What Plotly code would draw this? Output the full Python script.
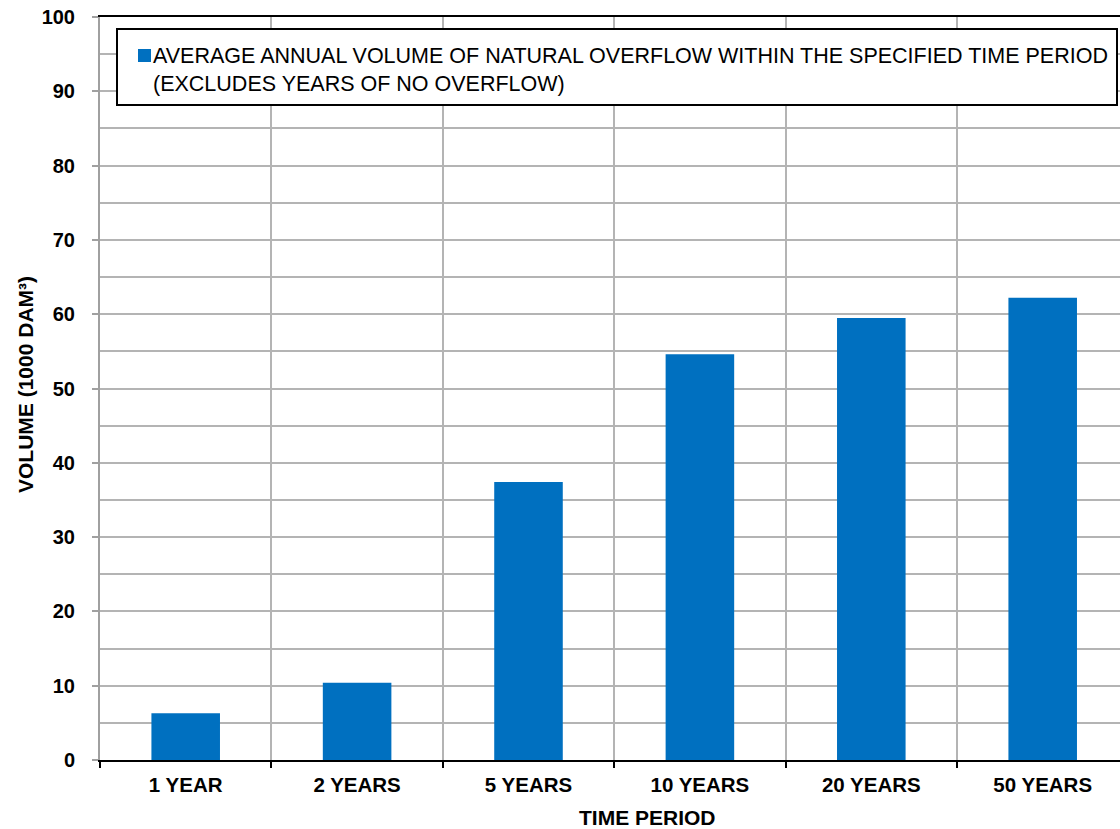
import plotly.graph_objects as go

# Time periods and average annual overflow volume (1000 dam³)
periods = ["1 YEAR", "2 YEARS", "5 YEARS", "10 YEARS", "20 YEARS", "50 YEARS"]
volumes = [6.3, 10.4, 37.4, 54.6, 59.5, 62.2]
series_name = ("AVERAGE ANNUAL VOLUME OF NATURAL OVERFLOW WITHIN THE SPECIFIED TIME PERIOD"
               "<br>(EXCLUDES YEARS OF NO OVERFLOW)")
y_ticks = [0, 10, 20, 30, 40, 50, 60, 70, 80, 90, 100]

BAR_COLOR = "#0070C0"
GRID_COLOR = "#b4b4b4"
FONT = "Liberation Sans, Arial, sans-serif"

W, H = 1120, 829
L, R, T, B = 100, 0, 17, 69
PW, PH = W - L - R, H - T - B


def px_x(px):
    return (px - L) / PW


def px_y(py):
    return (H - B - py) / PH


fig = go.Figure()
fig.add_trace(go.Bar(
    x=periods, y=volumes, name=series_name, width=0.4,
    marker=dict(color=BAR_COLOR, line=dict(width=0)),
    showlegend=False,
))

# Legend box drawn in paper coordinates
fig.add_shape(type="rect", xref="paper", yref="paper",
              x0=px_x(117), x1=px_x(1117), y0=px_y(105), y1=px_y(29),
              line=dict(color="black", width=2), fillcolor="white", layer="above")
fig.add_shape(type="rect", xref="paper", yref="paper",
              x0=px_x(138), x1=px_x(151), y0=px_y(62), y1=px_y(49),
              line=dict(width=0), fillcolor=BAR_COLOR, layer="above")
fig.add_annotation(xref="paper", yref="paper", x=px_x(151), y=px_y(42),
                   xanchor="left", yanchor="top", align="left", showarrow=False,
                   text=series_name,
                   font=dict(family=FONT, size=21.5, color="black"))

# Axis titles
fig.add_annotation(xref="paper", yref="paper", x=px_x(647), y=px_y(817),
                   xanchor="center", yanchor="middle", showarrow=False,
                   text="<b>TIME PERIOD</b>",
                   font=dict(family=FONT, size=21, color="black"))
fig.add_annotation(xref="paper", yref="paper", x=px_x(25), y=px_y(385),
                   xanchor="center", yanchor="middle", showarrow=False, textangle=-90,
                   text="<b>VOLUME (1000 DAM³)</b>",
                   font=dict(family=FONT, size=21, color="black"))

fig.update_layout(
    width=W, height=H,
    margin=dict(l=L, r=R, t=T, b=B, pad=0),
    paper_bgcolor="white", plot_bgcolor="white",
    font=dict(family=FONT, color="black"),
    bargap=0.6,
)

fig.update_xaxes(
    type="category", tickson="boundaries",
    range=[-0.5, -0.5 + PW / 171.4],
    showgrid=True, gridcolor=GRID_COLOR, gridwidth=1.5,
    showline=True, linecolor="black", linewidth=2, mirror=True,
    ticks="outside", ticklen=6, tickwidth=2, tickcolor="black",
    ticklabelstandoff=5,
    tickfont=dict(family=FONT, size=20.5, color="black", weight="bold"),
)

fig.update_yaxes(
    range=[0, 100], tickvals=y_ticks,
    showgrid=True, gridcolor=GRID_COLOR, gridwidth=1.5,
    minor=dict(dtick=5, showgrid=True, gridcolor=GRID_COLOR, gridwidth=1.5),
    showline=True, linecolor="#a0a0a0", linewidth=2,
    ticks="outside", ticklen=6, tickwidth=2, tickcolor="#a0a0a0",
    ticklabelstandoff=13,
    tickfont=dict(family=FONT, size=20, color="black", weight="bold"),
    zeroline=False,
)

fig.write_html("out.html")
